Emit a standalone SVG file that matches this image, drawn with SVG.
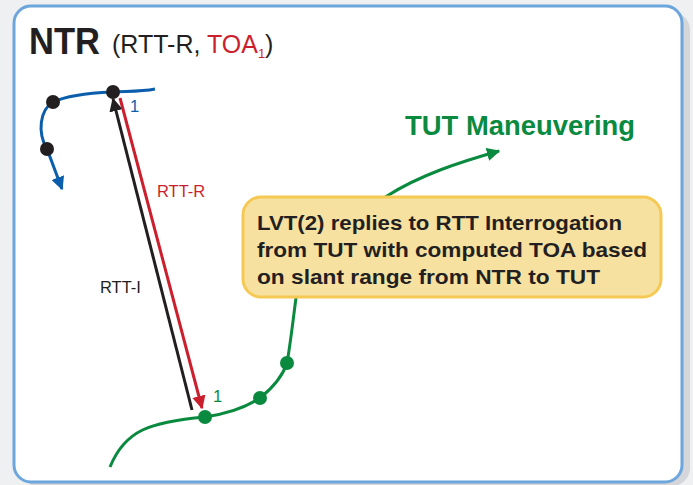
<svg xmlns="http://www.w3.org/2000/svg" width="693" height="485" viewBox="0 0 693 485">
  <defs>
    <style>
      .frame { fill: #ffffff; stroke: #6ca6dc; stroke-width: 3; }
      .shadow { fill: #d4d6d9; }
      .blue { fill: none; stroke: #0b5eab; stroke-width: 3; }
      .green { fill: none; stroke: #0a8a3f; stroke-width: 3; }
      .red { fill: none; stroke: #cc1f2e; stroke-width: 3; }
      .black { fill: none; stroke: #231f20; stroke-width: 3; }
      .dot-black { fill: #231f20; }
      .dot-green { fill: #0a8a3f; }
      .callout { fill: #f7e1a1; stroke: #f5c953; stroke-width: 3; }
      text { font-family: "Liberation Sans", Arial, sans-serif; }
      .title { font-size: 37px; font-weight: bold; fill: #231f20; }
      .sub { font-size: 25px; fill: #231f20; }
      .lbl { font-size: 16.5px; }
      .note { font-size: 21px; font-weight: bold; fill: #231f20; }
    </style>
    <marker id="ah-blue" viewBox="0 0 10 10" refX="9" refY="5" markerWidth="4.5" markerHeight="4.5" orient="auto" markerUnits="strokeWidth">
      <path d="M0,0 L10,5 L0,10 z" fill="#0b5eab"/>
    </marker>
    <marker id="ah-green" viewBox="0 0 10 10" refX="9" refY="5" markerWidth="4.5" markerHeight="4.5" orient="auto" markerUnits="strokeWidth">
      <path d="M0,0 L10,5 L0,10 z" fill="#0a8a3f"/>
    </marker>
    <marker id="ah-red" viewBox="0 0 10 10" refX="9" refY="5" markerWidth="4.5" markerHeight="4.5" orient="auto" markerUnits="strokeWidth">
      <path d="M0,0 L10,5 L0,10 z" fill="#cc1f2e"/>
    </marker>
    <marker id="ah-black" viewBox="0 0 10 10" refX="9" refY="5" markerWidth="4.5" markerHeight="4.5" orient="auto" markerUnits="strokeWidth">
      <path d="M0,0 L10,5 L0,10 z" fill="#231f20"/>
    </marker>
  </defs>

  <!-- page background and panel -->
  <rect x="0" y="0" width="693" height="485" fill="#eef0f2"/>
  <rect class="shadow" x="20" y="12" width="670" height="474" rx="18"/>
  <rect class="frame" x="14" y="6" width="668" height="476" rx="17"/>

  <!-- heading -->
  <g id="title">
    <text class="title" x="29" y="54" textLength="71" lengthAdjust="spacingAndGlyphs">NTR</text>
    <text class="sub" x="112" y="53">(RTT-R, <tspan fill="#cc1f2e">TOA</tspan><tspan fill="#cc1f2e" font-size="13" dy="5">1</tspan><tspan dy="-5">)</tspan></text>
  </g>

  <g id="connectors">
    <!-- NTR track -->
    <path class="blue" d="M155,89 C140,92 125,91 112,92 C90,93 68,95 53,102 C40,110 37,132 47,149 L62,189" marker-end="url(#ah-blue)"/>
    <!-- TUT track -->
    <path class="green" d="M110,467 C125,430 150,422 205,417 C225,414 245,408 260,398 C275,386 283,375 287,363 C291,340 293,320 296,298 C300,270 320,240 387,196 C420,175 460,162 499,151" marker-end="url(#ah-green)"/>
    <!-- RTT interrogation and reply -->
    <path class="black" d="M192,410 L113,99" marker-end="url(#ah-black)"/>
    <path class="red" d="M120,98 L202,408" marker-end="url(#ah-red)"/>
  </g>

  <g id="ntr-points">
    <circle class="dot-black" cx="53" cy="102" r="7"/>
    <circle class="dot-black" cx="47" cy="149" r="7"/>
    <circle class="dot-black" cx="113" cy="92" r="7"/>
  </g>

  <g id="tut-points">
    <circle class="dot-green" cx="205" cy="417" r="7"/>
    <circle class="dot-green" cx="260" cy="398" r="7"/>
    <circle class="dot-green" cx="287" cy="363" r="7"/>
  </g>

  <g id="labels">
    <text class="lbl" x="130" y="112" fill="#0b5eab">1</text>
    <text class="lbl" x="157" y="197" fill="#cc1f2e">RTT-R</text>
    <text class="lbl" x="100" y="293" fill="#231f20">RTT-I</text>
    <text class="lbl" x="213" y="402" fill="#0a8a3f">1</text>
  </g>

  <g id="tut-label">
    <text x="405" y="135" font-size="27" font-weight="bold" fill="#0a8a3f" textLength="230" lengthAdjust="spacingAndGlyphs">TUT Maneuvering</text>
  </g>

  <g id="callout">
    <rect class="callout" x="243" y="197" width="418" height="100" rx="18"/>
    <text class="note" x="257" y="230" textLength="365" lengthAdjust="spacingAndGlyphs">LVT(2) replies to RTT Interrogation</text>
    <text class="note" x="257" y="257" textLength="390" lengthAdjust="spacingAndGlyphs">from TUT with computed TOA based</text>
    <text class="note" x="257" y="284" textLength="343" lengthAdjust="spacingAndGlyphs">on slant range from NTR to TUT</text>
  </g>
</svg>
